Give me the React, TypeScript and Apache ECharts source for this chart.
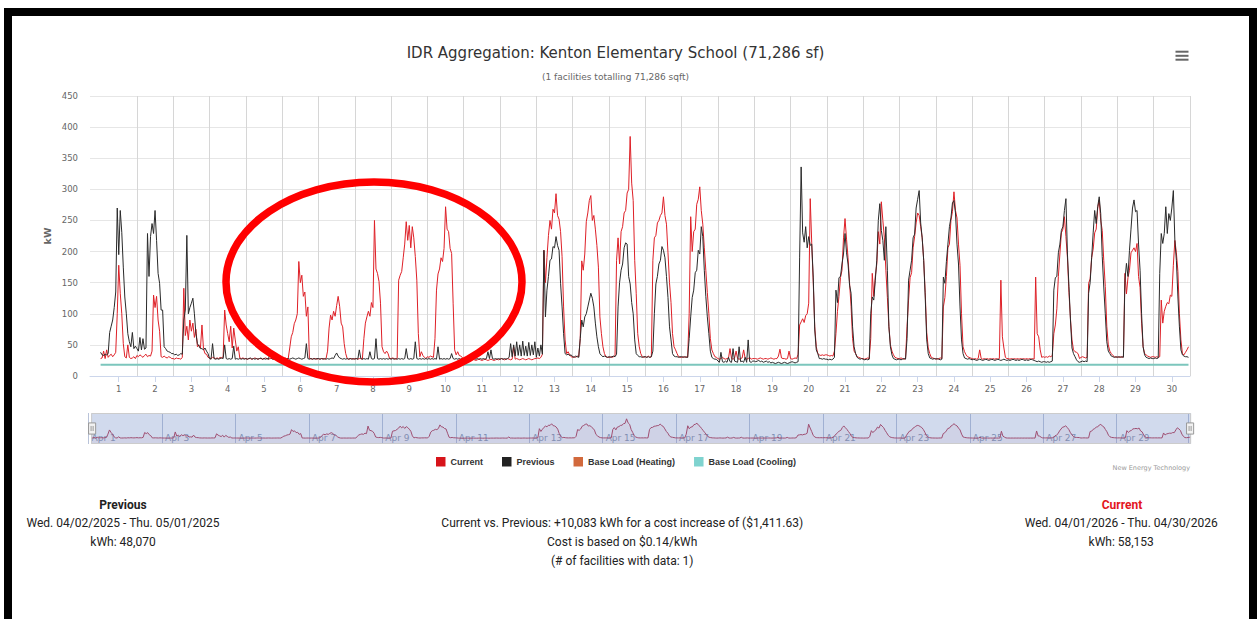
import React, { useEffect, useRef } from "react";
import * as echarts from "echarts";

// ---- tick labels ----
const dayLabels = ["1","2","3","4","5","6","7","8","9","10","11","12","13","14","15","16","17","18","19","20","21","22","23","24","25","26","27","28","29","30"];
const navLabels = ["Apr 1","Apr 3","Apr 5","Apr 7","Apr 9","Apr 11","Apr 13","Apr 15","Apr 17","Apr 19","Apr 21","Apr 23","Apr 25","Apr 27","Apr 29"];
const seriesNames = ["Current", "Previous", "Base Load (Heating)", "Base Load (Cooling)"];

// ---- hourly kW, Current (Apr 1 - Apr 30, 2026), one row per day, 24 hours ----
const currentByDay: number[][] = [
  [28,29,40,28,42,30,33,35,31,34,38,100,178,133,100,52,31,29,50,30,28,29,31,28],
  [33,31,34,32,30,33,35,31,33,32,40,130,110,128,90,72,31,30,32,30,29,31,30,28],
  [28,27,29,28,28,27,30,141,65,80,58,90,72,85,62,75,47,50,45,82,44,36,35,30],
  [29,28,30,29,28,29,28,30,29,31,106,82,68,55,80,45,77,58,40,47,29,28,29,28],
  [28,27,28,28,27,28,29,28,27,28,28,27,28,29,28,27,28,28,27,28,29,28,27,28],
  [28,28,29,28,28,45,63,70,84,90,100,184,150,162,128,135,96,111,28,28,27,28,28,27],
  [28,27,28,28,27,28,40,77,98,90,104,96,113,128,112,85,79,52,36,28,27,28,28,27],
  [28,28,27,28,28,27,60,85,95,104,96,118,110,250,172,165,152,117,47,39,36,40,36,28],
  [28,29,28,27,28,154,162,168,190,212,248,218,242,206,240,222,192,154,68,31,39,33,30,28],
  [31,30,32,31,30,60,138,164,172,190,184,205,272,236,232,205,197,117,42,34,39,33,32,30],
  [27,26,27,26,25,26,27,26,25,26,27,26,25,26,27,26,25,26,27,26,25,26,27,26],
  [27,28,27,26,27,28,27,26,27,47,27,28,27,26,27,28,27,26,27,28,27,26,27,28],
  [28,29,28,30,35,202,150,190,226,250,236,268,262,293,258,252,232,192,111,58,36,39,34,31],
  [30,31,30,32,31,60,185,170,196,248,262,282,290,250,258,236,210,175,95,68,47,36,31,30],
  [30,31,30,31,32,186,222,180,232,240,262,266,294,300,385,310,282,186,133,68,47,36,31,30],
  [31,30,32,30,31,186,222,226,246,250,258,262,288,258,244,198,150,118,68,47,42,36,31,30],
  [30,31,30,31,30,100,256,200,232,236,276,284,304,266,244,206,170,134,100,60,42,36,31,30],
  [28,27,28,30,28,27,28,29,44,28,27,29,40,28,27,28,29,42,28,27,28,30,27,28],
  [28,28,27,28,29,28,27,28,28,27,28,29,28,27,28,28,32,43,29,28,28,27,28,40],
  [28,27,28,29,28,35,82,87,92,86,97,100,117,285,214,150,79,47,36,34,33,34,33,34],
  [34,33,32,33,32,40,68,104,128,158,170,222,253,220,190,150,112,60,40,36,31,30,29,28],
  [28,27,28,29,28,60,165,128,160,180,232,212,280,250,222,170,126,80,50,40,34,30,29,28],
  [28,29,28,27,28,80,122,158,166,206,224,246,262,258,240,222,186,134,70,45,36,30,29,28],
  [28,27,28,29,28,111,126,160,206,212,250,264,296,266,254,212,178,100,47,39,34,31,30,29],
  [28,27,28,27,28,42,28,27,28,27,28,27,28,27,28,27,28,27,28,154,63,45,30,28],
  [28,27,28,27,28,27,28,27,28,27,28,27,28,27,28,27,28,27,159,68,63,42,30,31],
  [30,31,30,32,31,33,68,82,108,160,196,230,236,256,224,190,134,92,58,42,39,38,36,28],
  [30,31,30,29,30,149,156,190,204,230,236,270,283,250,234,186,144,80,50,40,36,33,31,30],
  [31,30,31,30,31,165,132,158,170,198,202,206,200,213,160,142,85,47,36,34,32,31,30,31],
  [31,30,31,30,31,122,85,104,112,118,116,130,128,178,218,198,168,100,58,36,34,38,42,47],
];

// ---- hourly kW, Previous (Apr 2 - May 1, 2025), aligned by weekday ----
const previousByDay: number[][] = [
  [38,34,33,35,34,36,70,80,90,110,135,270,195,266,231,175,127,100,68,55,47,70,44,48],
  [44,40,62,42,60,43,45,229,160,224,245,229,266,218,165,149,106,106,47,44,40,39,38,36],
  [36,34,35,33,34,36,35,90,106,226,100,110,117,125,100,68,52,48,44,44,42,45,40,36],
  [28,27,52,28,27,28,27,28,29,28,50,28,27,28,27,28,48,27,28,27,28,27,28,27],
  [28,27,28,29,27,28,27,28,27,28,29,27,28,27,28,27,39,28,27,28,27,28,27,28],
  [28,27,28,27,28,27,28,29,28,27,28,29,28,27,28,29,52,28,27,28,27,28,27,28],
  [28,27,28,27,28,27,28,27,28,29,28,33,37,32,29,28,27,28,27,28,27,28,27,28],
  [27,28,27,42,28,27,28,27,28,27,39,28,27,28,60,28,27,28,27,28,27,28,27,28],
  [27,28,27,28,27,28,27,28,27,28,44,28,27,28,27,28,55,28,27,28,27,28,27,28],
  [27,28,27,28,27,28,27,47,27,28,27,28,27,28,27,28,36,28,27,28,27,28,27,28],
  [27,28,27,28,27,28,27,28,27,28,27,28,27,28,27,28,39,28,42,28,27,28,27,28],
  [27,28,27,28,27,28,30,52,31,50,32,55,33,50,32,56,33,48,32,54,33,50,34,55],
  [30,45,32,50,35,202,95,138,160,186,188,208,206,224,210,202,149,111,68,36,34,35,33,34],
  [31,30,32,31,30,60,90,79,95,100,111,122,133,125,111,85,63,47,36,33,31,32,31,30],
  [31,30,31,32,31,35,111,150,170,180,206,214,212,160,148,118,100,58,36,33,31,31,30,31],
  [31,30,31,30,31,40,100,148,160,180,186,208,202,190,160,126,79,58,36,32,31,31,30,31],
  [31,30,31,30,30,60,95,126,138,166,170,202,196,240,224,170,128,95,68,40,30,28,27,27],
  [24,22,38,23,22,24,22,30,23,22,44,24,23,22,47,23,24,22,30,22,58,23,22,24],
  [24,23,24,25,23,24,22,23,24,22,23,21,22,21,20,21,22,21,20,21,22,21,20,21],
  [22,23,22,21,22,23,191,336,230,215,240,206,224,210,212,159,74,42,36,28,28,27,28,27],
  [27,26,27,26,27,30,138,118,158,160,180,196,229,198,180,146,133,79,47,36,30,28,27,28],
  [27,26,27,26,27,100,127,122,154,186,250,277,234,218,186,240,170,79,47,34,28,27,26,27],
  [27,26,27,28,27,60,154,170,186,222,228,270,284,298,246,222,186,127,58,36,29,28,27,28],
  [27,28,27,26,27,159,149,184,212,240,254,278,282,262,212,180,111,58,36,29,28,27,28,27],
  [26,27,26,25,26,27,26,25,26,27,26,25,26,27,26,25,26,27,26,25,26,27,26,25],
  [26,25,26,27,26,25,26,25,26,27,26,25,26,25,26,27,26,25,24,23,24,23,22,23],
  [23,22,23,22,23,24,138,158,160,198,212,234,240,266,285,196,144,90,45,36,31,26,23,22],
  [23,24,23,24,23,133,150,190,230,266,245,272,288,261,192,143,100,55,40,36,32,31,30,31],
  [30,31,30,31,30,154,181,160,202,236,270,283,264,266,212,170,100,47,34,30,29,28,29,28],
  [28,29,28,29,165,229,213,229,272,229,261,250,270,298,218,186,127,79,42,34,32,31,31,30],
];

// ---- base loads (kW) ----
const heatingBaseLoad: number[][] = [];
const coolingBaseHours = [0, 719];
const coolingBaseKW = [18, 18];

const toPoints = (byDay: number[][]) =>
  byDay.flatMap((day, d) => day.map((kw, h) => [d * 24 + h, kw]));

const dayBoundaries = dayLabels.map((_, k) => (k + 1) * 24);
const dayNoons = dayLabels.map((_, k) => k * 24 + 12);

export default function App() {
  const ref = useRef<HTMLDivElement>(null);

  useEffect(() => {
    if (!ref.current) return;
    const chart = echarts.init(ref.current, undefined, { renderer: "svg" });

    const txt = (text: string, x: number, y: number, opts: any = {}) => ({
      type: "text",
      x,
      y,
      z: 50,
      style: {
        text,
        fill: opts.fill || "#222",
        font: opts.font || "12px Roboto",
        textAlign: opts.align || "center",
        textVerticalAlign: "middle",
      },
    });

    const option: any = {
      animation: false,
      textStyle: { fontFamily: "DejaVu Sans" },
      title: {
        text: "IDR Aggregation: Kenton Elementary School (71,286 sf)",
        subtext: "(1 facilities totalling 71,286 sqft)",
        left: 615.5,
        top: 45,
        textAlign: "center",
        padding: 0,
        itemGap: 12,
        textStyle: { fontFamily: "DejaVu Sans", fontSize: 15, fontWeight: "normal", color: "#333" },
        subtextStyle: { fontFamily: "DejaVu Sans", fontSize: 9, color: "#666" },
      },
      legend: {
        data: seriesNames,
        left: 436,
        top: 457,
        padding: 0,
        icon: "rect",
        itemWidth: 9.5,
        itemHeight: 9.5,
        itemGap: 19,
        textStyle: { fontFamily: "Liberation Sans", fontWeight: "bold", fontSize: 9, color: "#333" },
      },
      grid: [
        { left: 90, top: 96, width: 1100, height: 280 },
        { left: 88.6, top: 413, width: 1100, height: 31 },
      ],
      xAxis: [
        {
          type: "value",
          gridIndex: 0,
          min: -7,
          max: 720,
          axisLine: { show: true, lineStyle: { color: "#ccd6eb" } },
          axisTick: { show: false, customValues: dayBoundaries },
          axisLabel: { show: false },
          splitLine: { show: true, lineStyle: { color: "#d6d6d6", width: 1 } },
        },
        {
          type: "value",
          gridIndex: 0,
          min: -7,
          max: 720,
          position: "bottom",
          axisLine: { show: false },
          axisTick: { show: true, customValues: dayNoons, length: 6, lineStyle: { color: "#ccd6eb" } },
          axisLabel: {
            customValues: dayNoons,
            formatter: (v: number) => dayLabels[Math.round((v - 12) / 24)],
            color: "#666",
            fontSize: 8.5,
            margin: 8,
          },
          splitLine: { show: false },
        },
        {
          type: "value",
          gridIndex: 1,
          min: 0,
          max: 719,
          interval: 48,
          axisLine: { show: false },
          axisTick: { show: false },
          axisLabel: {
            inside: true,
            align: "left",
            verticalAlign: "bottom",
            margin: 2,
            padding: [0, 0, 0, 3],
            color: "#8d98b0",
            fontSize: 9,
            showMinLabel: true,
            showMaxLabel: false,
            formatter: (v: number) => navLabels[Math.round(v / 48)] || "",
          },
          splitLine: { show: true, lineStyle: { color: "#b9c3d9" } },
        },
      ],
      yAxis: [
        {
          type: "value",
          gridIndex: 0,
          min: 0,
          max: 450,
          interval: 50,
          axisLine: { show: false },
          axisTick: { show: false },
          axisLabel: { color: "#666", fontSize: 8.5, margin: 12 },
          splitLine: { lineStyle: { color: "#e6e6e6" } },
        },
        { type: "value", gridIndex: 1, min: 0, max: 1, show: false, splitLine: { show: false } },
      ],
      dataZoom: [
        {
          type: "slider",
          xAxisIndex: [0],
          filterMode: "none",
          start: 0,
          end: 100,
          left: 88.6,
          width: 1100,
          top: 413,
          height: 31,
          backgroundColor: "rgba(0,0,0,0)",
          fillerColor: "rgba(102,133,194,0.3)",
          borderColor: "#cccccc",
          borderRadius: 0,
          showDataShadow: true,
          showDetail: false,
          brushSelect: false,
          moveHandleSize: 0,
          dataBackground: {
            lineStyle: { color: "#b8384f", width: 1, opacity: 1 },
            areaStyle: { color: "rgba(200,60,80,0.06)", opacity: 1 },
          },
          selectedDataBackground: {
            lineStyle: { color: "#b8384f", width: 1, opacity: 1 },
            areaStyle: { color: "rgba(200,60,80,0.06)", opacity: 1 },
          },
          handleIcon: "path://M0,0 L7,0 L7,11 L0,11 Z M2.5,3 L2.5,8 M4.5,3 L4.5,8",
          handleSize: "36%",
          handleStyle: { color: "#f2f2f2", borderColor: "#999999", borderWidth: 1 },
        },
      ],
      series: [
        {
          name: seriesNames[0],
          type: "line",
          xAxisIndex: 0,
          yAxisIndex: 0,
          data: toPoints(currentByDay),
          showSymbol: false,
          color: "#d7141a",
          lineStyle: { width: 1, color: "#de2027" },
          z: 2,
        },
        {
          name: seriesNames[1],
          type: "line",
          xAxisIndex: 0,
          yAxisIndex: 0,
          data: toPoints(previousByDay),
          showSymbol: false,
          color: "#222222",
          lineStyle: { width: 1, color: "#2a2a2a" },
          z: 3,
        },
        {
          name: seriesNames[2],
          type: "line",
          xAxisIndex: 0,
          yAxisIndex: 0,
          data: heatingBaseLoad,
          showSymbol: false,
          color: "#d2693c",
          lineStyle: { width: 2 },
        },
        {
          name: seriesNames[3],
          type: "line",
          xAxisIndex: 0,
          yAxisIndex: 0,
          data: coolingBaseHours.map((h, i) => [h, coolingBaseKW[i]]),
          showSymbol: false,
          color: "#7fd3cf",
          lineStyle: { width: 2, color: "#7cc6bd" },
          z: 1,
        },
      ],
      graphic: [
        // screenshot frame
        { type: "rect", z: 60, shape: { x: 4, y: 8, width: 1253, height: 8 }, style: { fill: "#000" } },
        { type: "rect", z: 60, shape: { x: 4, y: 8, width: 8, height: 611 }, style: { fill: "#000" } },
        { type: "rect", z: 60, shape: { x: 1249, y: 8, width: 8, height: 611 }, style: { fill: "#000" } },
        // menu icon
        { type: "rect", z: 50, shape: { x: 1175.5, y: 50.7, width: 13, height: 2 }, style: { fill: "#666" } },
        { type: "rect", z: 50, shape: { x: 1175.5, y: 54.8, width: 13, height: 2 }, style: { fill: "#666" } },
        { type: "rect", z: 50, shape: { x: 1175.5, y: 58.7, width: 13, height: 2 }, style: { fill: "#666" } },
        // axis title
        {
          type: "text",
          x: 47,
          y: 236,
          rotation: Math.PI / 2,
          z: 50,
          style: { text: "kW", fill: "#666", font: "bold 9.5px 'DejaVu Sans'", textAlign: "center", textVerticalAlign: "middle" },
        },
        // credits
        txt("New Energy Technology", 1190, 468, { font: "6.5px 'DejaVu Sans'", fill: "#999", align: "right" }),
        // annotation ellipse
        {
          type: "ellipse",
          z: 100,
          shape: { cx: 374, cy: 282, rx: 148, ry: 100 },
          style: { fill: "none", stroke: "#ff0000", lineWidth: 7.5 },
        },
        // summary texts
        txt("Previous", 123, 505, { font: "bold 12px Roboto" }),
        txt("Wed. 04/02/2025 - Thu. 05/01/2025", 123, 523.3),
        txt("kWh: 48,070", 123, 541.7),
        txt("Current vs. Previous: +10,083 kWh for a cost increase of ($1,411.63)", 622.2, 523.3),
        txt("Cost is based on $0.14/kWh", 622.2, 542.3),
        txt("(# of facilities with data: 1)", 622.2, 561),
        txt("Current", 1122, 505, { font: "bold 12px Roboto", fill: "#e3161d" }),
        txt("Wed. 04/01/2026 - Thu. 04/30/2026", 1121.2, 523.3),
        txt("kWh: 58,153", 1121.2, 541.7),
      ],
    };

    chart.setOption(option);
    return () => chart.dispose();
  }, []);

  return (
    <div
      ref={ref}
      style={{ position: "absolute", left: 0, top: 0, width: 1257, height: 619, background: "#fff" }}
    />
  );
}
